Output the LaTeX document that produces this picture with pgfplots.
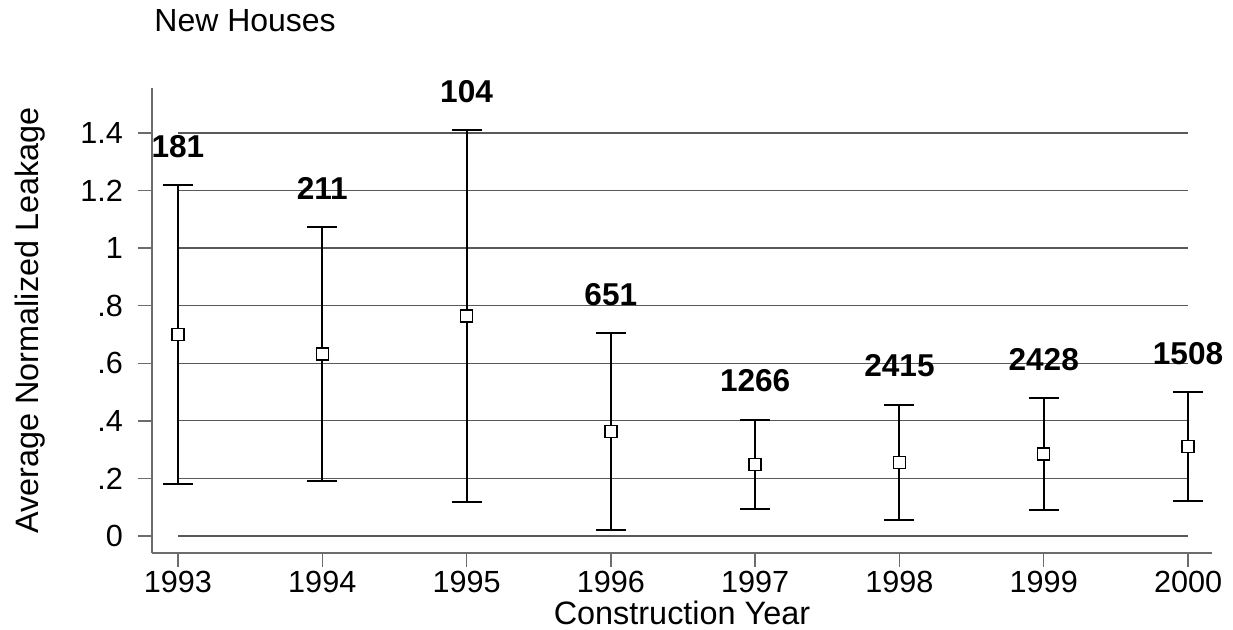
\documentclass[border=0pt]{standalone}
\usepackage{pgfplots}
\pgfplotsset{compat=1.18}
\usepackage{pgfplotstable}
\usepackage{fontspec}
\setmainfont{Liberation Sans}
\pgfplotstableread{
x    y       e       n
1993 0.700   0.519   181
1994 0.632   0.441   211
1995 0.764   0.646   104
1996 0.363   0.342   651
1997 0.2485  0.155   1266
1998 0.2555  0.200   2415
1999 0.2845  0.1945  2428
2000 0.311   0.189   1508
}\data
\begin{document}
\begin{tikzpicture}
\useasboundingbox (-76pt,-38.5pt) rectangle (540.5pt,276.5pt);
\begin{axis}[
  at={(0,0)}, anchor=south west,
  scale only axis, width=530pt, height=232.5pt,
  xmin=1992.82, xmax=2000.166, ymin=-0.059, ymax=1.556,
  axis x line=bottom, axis y line=left,
  axis line style={-, gray!85!black, line width=0.7pt},
  tick align=outside, major tick length=7pt,
  tick style={gray!85!black, line width=0.7pt},
  xtick={1993,1994,1995,1996,1997,1998,1999,2000},
  xticklabels={1993,1994,1995,1996,1997,1998,1999,2000},
  ytick={0,0.2,0.4,0.6,0.8,1,1.2,1.4},
  yticklabels={0,.2,.4,.6,.8,1,1.2,1.4},
  ticklabel style={font=\fontsize{15.3}{18}\selectfont},
  yticklabel style={xshift=-4pt},
  xticklabel style={yshift=1.5pt},
  xlabel={Construction Year},
  ylabel={Average Normalized Leakage},
  label style={font=\fontsize{16.2}{19}\selectfont},
  xlabel style={at={(axis description cs:0.5,-0.1545)}, anchor=base},
  ylabel style={at={(axis description cs:-0.1075,0.5)}, anchor=base, rotate=0},
  clip=false,
]
\pgfplotsinvokeforeach{0,0.2,0.4,0.6,0.8,1,1.2,1.4}{
  \draw[gray!70!black, line width=0.6pt] (axis cs:1993,#1) -- (axis cs:2000,#1);
}
\addplot[black, only marks, mark=square*,
  mark options={fill=white, draw=black, line width=0.7pt, mark size=3pt},
  error bars/.cd, y dir=both, y explicit, error mark=|,
  error mark options={black, line width=1pt, mark size=7.5pt},
  error bar style={black, line width=1pt}]
  table[x=x, y=y, y error=e] {\data};
\addplot[only marks, mark=none, nodes near coords, point meta=explicit symbolic,
  nodes near coords style={font=\bfseries\fontsize{15.8}{18}\selectfont, anchor=base, yshift=14pt, inner sep=0pt}]
  table[x=x, y expr=\thisrow{y}+\thisrow{e}, meta=n] {\data};
\node[anchor=base west, font=\fontsize{16}{19}\selectfont, inner sep=0pt] at (rel axis cs:0,1) [xshift=1pt, yshift=28pt] {New Houses};
\end{axis}
\end{tikzpicture}
\end{document}
